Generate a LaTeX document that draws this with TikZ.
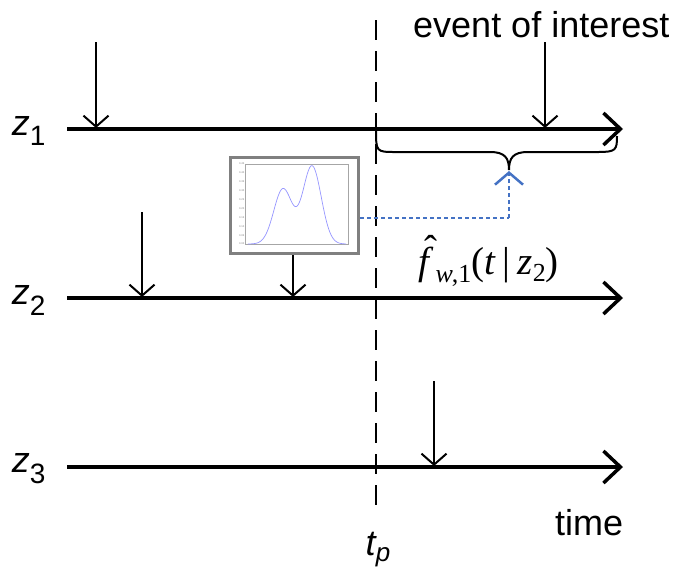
\documentclass[tikz,border=0pt]{standalone}
\usepackage{fontspec}
\setmainfont{Liberation Sans}
\newfontfamily\serifx{Liberation Serif}
\usetikzlibrary{arrows.meta}
\definecolor{linkblue}{RGB}{68,114,196}
\definecolor{curveblue}{RGB}{150,150,255}
\begin{document}
\begin{tikzpicture}[x=1pt,y=-1pt,
  timeline/.style={line width=3.5pt,-{Straight Barb[length=17pt,width=32pt,line width=3.5pt]}},
  eventarrow/.style={line width=2pt,-{Straight Barb[length=11pt,width=25pt,line width=2pt]}},
  lbl/.style={font=\fontsize{36}{40}\selectfont},
  zlbl/.style={font=\fontsize{36}{40}\selectfont, anchor=center},
  tick/.style={font=\fontsize{2.6}{3}\selectfont, anchor=east, inner sep=0.5pt, text=gray}]
\useasboundingbox (0,0) rectangle (685,574);
% timelines
\coordinate (a1s) at (67,129); \coordinate (a1e) at (623,129);
\coordinate (a2s) at (67,298); \coordinate (a2e) at (623,298);
\coordinate (a3s) at (67,467); \coordinate (a3e) at (623,467);
\draw[timeline] (a1s) -- (a1e);
\draw[timeline] (a2s) -- (a2e);
\draw[timeline] (a3s) -- (a3e);
\node[zlbl] (z1) at (29,131) {\textit{z}\textsubscript{\fontsize{28}{30}\selectfont 1}};
\node[zlbl] (z2) at (29,300) {\textit{z}\textsubscript{\fontsize{28}{30}\selectfont 2}};
\node[zlbl] (z3) at (29,469) {\textit{z}\textsubscript{\fontsize{28}{30}\selectfont 3}};
% events
\coordinate (e1t) at (96,42);  \coordinate (e1b) at (96,128);
\coordinate (e2t) at (545,42); \coordinate (e2b) at (545,128);
\coordinate (e3t) at (142,212); \coordinate (e3b) at (142,297);
\coordinate (e5t) at (434,381); \coordinate (e5b) at (434,466);
\draw[eventarrow] (e1t) -- (e1b);
\draw[eventarrow] (e2t) -- (e2b);
\draw[eventarrow] (e3t) -- (e3b);
\draw[eventarrow] (e5t) -- (e5b);
% dashed prediction time
\coordinate (dtop) at (376,20); \coordinate (dbot) at (376,512);
\draw[line width=2.3pt, dash pattern=on 20pt off 11pt] (dtop) -- (dbot);
\node[lbl, anchor=center] (tp) at (378,550) {\textit{t}\kern-1pt\raisebox{-6pt}{\fontsize{26}{28}\selectfont\textit{p}}};
\node[lbl, anchor=base west, inner sep=0pt] (eoi) at (413,37) {event of interest};
\node[lbl, anchor=base west, inner sep=0pt] (time) at (555,535) {time};
% brace
\draw[line width=2pt] (376,129) .. controls (376,152) and (376,152) .. (396,152)
  -- (490,152) .. controls (505,152) and (509,158) .. (509,170)
  .. controls (509,158) and (513,152) .. (528,152)
  -- (598,152) .. controls (616,152) and (617,150) .. (617,136);
% density box
\node[draw=gray, line width=3pt, fill=white, minimum width=128pt, minimum height=96pt, inner sep=0pt] (box) at (294.5,205.5) {};
\draw[gray!70, line width=0.5pt] (245,164) rectangle (348,244);
\foreach \v [count=\i from 0] in {0.00,0.05,0.10,0.15,0.20,0.25,0.30,0.35,0.40,0.45}
  \node[tick] (tk\i) at (245,{244-\i*80/9}) {\v};
\draw[curveblue, line width=0.7pt] plot[domain=248:346, samples=120, smooth]
  (\x, {244 - 55*exp(-((\x-283)/13)*((\x-283)/13)) - 78*exp(-((\x-312)/13)*((\x-312)/13))});
\coordinate (e4b) at (293,297);
\draw[eventarrow] (box.south -| e4b) -- (e4b);
% link
\coordinate (bend) at (509,218);
\coordinate (tip) at (509,171);
\draw[linkblue, line width=2.5pt, dash pattern=on 4pt off 3pt] (box.east |- bend) -- (bend);
\draw[linkblue, line width=2.5pt, dash pattern=on 4pt off 3pt, -{Straight Barb[length=12pt,width=28pt,line width=2.5pt]}] (bend) -- (tip);
\node[font=\fontsize{39}{42}\selectfont\serifx, anchor=base west, inner sep=0pt] (fhat) at (418,274)
  {\makebox[0pt][l]{\kern6pt\raisebox{12pt}{ˆ}}\textit{f}\kern2pt\raisebox{-8pt}{\fontsize{26}{28}\selectfont\textit{w}\kern-1pt,1}(\textit{t}\kern7pt|\kern7pt\textit{z}\raisebox{-7pt}{\fontsize{26}{28}\selectfont 2})};
\end{tikzpicture}
\end{document}
